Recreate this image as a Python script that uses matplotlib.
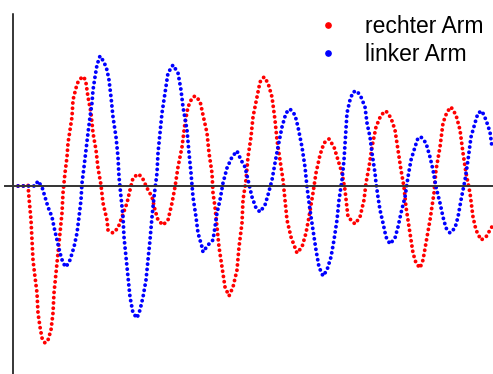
import matplotlib
matplotlib.use("Agg")
import matplotlib.pyplot as plt
from matplotlib.lines import Line2D

# values (time, deflection)
t_right = [5, 10, 15, 16, 18, 19, 20, 22, 24, 25, 27, 29, 32, 35, 38, 40, 41, 43, 45, 47,
           49, 50, 52, 54, 55, 57, 59, 60, 63, 65, 69, 71, 73, 75, 78, 80, 83, 85, 88, 90,
           94, 95, 100, 105, 109, 114, 117, 120, 125, 129, 134, 139, 142, 145, 150, 155, 159, 162, 165, 169,
           172, 175, 179, 182, 187, 190, 194, 196, 199, 200, 202, 204, 206, 209, 212, 216, 220, 224, 226, 229,
           230, 233, 235, 238, 240, 244, 247, 251, 255, 259, 262, 264, 267, 270, 272, 274, 278, 284, 289, 293,
           296, 300, 303, 307, 311, 316, 321, 325, 329, 332, 335, 342, 347, 351, 353, 356, 359, 363, 368, 373,
           378, 382, 385, 388, 391, 393, 397, 400, 403, 407, 410, 413, 417, 421, 423, 427, 430, 434, 438, 443,
           447, 450, 453, 457, 460, 463, 468, 473, 477, 480]
y_right = [0, 0, 1, -12, -34, -54, -74, -91, -107, -127, -141, -152, -157, -154, -144, -127, -107, -87, -67, -47,
           -27, -7, 13, 29, 43, 56, 69, 86, 98, 104, 109, 109, 103, 89, 73, 53, 36, 18, 1, -17,
           -34, -44, -47, -42, -31, -17, -4, 8, 12, 9, -2, -11, -24, -34, -39, -34, -17, -1, 19, 39,
           63, 79, 88, 90, 85, 71, 53, 33, 13, -7, -21, -41, -61, -81, -101, -110, -101, -84, -61, -37,
           -14, 6, 29, 49, 69, 89, 104, 109, 103, 89, 66, 46, 26, 6, -14, -34, -51, -67, -61, -47,
           -31, -7, 13, 31, 43, 47, 39, 26, 13, -4, -31, -38, -31, -14, 3, 19, 39, 59, 71, 75,
           68, 56, 36, 16, -1, -21, -47, -67, -77, -82, -74, -57, -34, -7, 16, 39, 63, 74, 79, 71,
           56, 33, 13, -7, -31, -44, -54, -51, -44, -39]

t_left = [5, 12, 17, 22, 25, 29, 32, 35, 39, 41, 44, 47, 50, 53, 57, 61, 64, 66, 68, 69,
          71, 73, 75, 77, 79, 80, 82, 84, 87, 91, 94, 96, 98, 100, 103, 105, 106, 108, 110, 111,
          113, 115, 117, 120, 124, 127, 130, 133, 135, 137, 139, 141, 144, 145, 147, 149, 152, 155, 160, 165,
          168, 170, 174, 176, 178, 180, 183, 185, 189, 190, 195, 200, 202, 204, 207, 210, 214, 219, 224, 228,
          232, 235, 239, 243, 247, 252, 255, 259, 262, 265, 269, 273, 277, 282, 285, 289, 292, 294, 297, 300,
          303, 306, 310, 314, 318, 321, 324, 326, 329, 331, 334, 337, 340, 344, 348, 352, 354, 357, 359, 362,
          363, 365, 367, 370, 373, 377, 382, 385, 388, 392, 395, 398, 402, 405, 408, 413, 417, 420, 423, 427,
          430, 433, 437, 442, 445, 448, 452, 455, 458, 462, 465, 469, 473, 477, 479]
y_left = [0, 0, 0, 0, 5, -1, -11, -21, -31, -41, -54, -67, -77, -81, -74, -61, -47, -31, -14, 3,
          19, 36, 53, 69, 83, 96, 109, 121, 130, 124, 116, 106, 89, 69, 49, 29, 9, -11, -31, -51,
          -71, -91, -111, -127, -132, -124, -111, -94, -74, -54, -31, -11, 13, 33, 53, 73, 93, 113, 121, 113,
          96, 79, 56, 33, 13, -11, -31, -47, -61, -66, -59, -54, -41, -27, -14, 3, 18, 29, 35, 26,
          19, 6, -11, -22, -26, -19, -9, 6, 23, 39, 59, 73, 77, 71, 59, 39, 19, -1, -24, -44,
          -64, -81, -90, -84, -71, -54, -34, -14, 6, 26, 73, 86, 94, 95, 89, 79, 63, 49, 33, 13,
          3, -11, -24, -37, -51, -58, -52, -41, -27, -11, 9, 26, 39, 48, 49, 43, 29, 16, -1, -17,
          -31, -42, -47, -42, -31, -14, 6, 26, 49, 63, 73, 75, 66, 54, 39]

labels = ["rechter Arm", "linker Arm"]
colors = ["#ff0000", "#0000ff"]

plt.rcParams["font.family"] = ["Liberation Sans", "DejaVu Sans"]

fig = plt.figure(figsize=(4.93, 3.74), dpi=100)
ax = fig.add_axes([5 / 493, 0, 488 / 493, 360 / 374])

dots = dict(lw=2.8, ls=(0, (0.01, 1.35)), dash_capstyle="round")
ax.plot(t_right, y_right, color=colors[0], **dots)
ax.plot(t_left, y_left, color=colors[1], **dots)

ax.set_xlim(-8, 480)
ax.set_ylim(-188, 172)
ax.spines["left"].set_position(("data", 0))
ax.spines["bottom"].set_position(("data", 0))
ax.spines["right"].set_visible(False)
ax.spines["top"].set_visible(False)
ax.spines["left"].set_linewidth(1.1)
ax.spines["bottom"].set_linewidth(1.4)
ax.spines["bottom"].set_color("#333333")
ax.set_xticks([])
ax.set_yticks([])

handles = [Line2D([], [], ls="none", marker="o", ms=3.8, color=c, label=l)
           for c, l in zip(colors, labels)]
ax.legend(handles=handles, loc="upper left", bbox_to_anchor=(317 / 493, 1 - 15 / 374),
          bbox_transform=fig.transFigure, frameon=False, fontsize=16.5,
          handlelength=1.0, handletextpad=1.1, borderpad=0, borderaxespad=0,
          labelspacing=0.22)

fig.savefig("out.png", dpi=100)
